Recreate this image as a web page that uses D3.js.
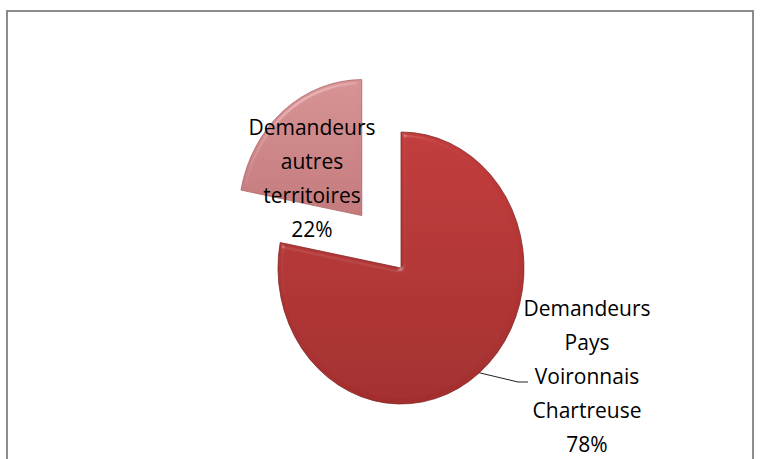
<!DOCTYPE html>
<html>
<head>
<meta charset="utf-8">
<script src="https://cdn.jsdelivr.net/npm/d3@7"></script>
<style>
  body { margin: 0; background: #fff; }
  svg { display: block; }
</style>
</head>
<body>
<div id="chart"></div>
<script>
// data
var categories = ["Demandeurs Pays Voironnais Chartreuse", "Demandeurs autres territoires"];
var values = [78, 22];
var labelLines = [
    ["Demandeurs", "Pays", "Voironnais", "Chartreuse", "78%"],
    ["Demandeurs", "autres", "territoires", "22%"]
];

var width = 760, height = 459;
var cx = 401, cy = 268;
var ry = 136, rx = 123;
var explode = [0, 68];

var svg = d3.select("#chart").append("svg")
    .attr("width", width)
    .attr("height", height);

var defs = svg.append("defs");

function addGradient(id, c1, c2) {
    var g = defs.append("linearGradient")
        .attr("id", id)
        .attr("x1", 0).attr("y1", 0).attr("x2", 0).attr("y2", 1);
    g.append("stop").attr("offset", "0%").attr("stop-color", c1);
    g.append("stop").attr("offset", "100%").attr("stop-color", c2);
}
addGradient("gBig", "#c23b3b", "#a32e2e");
addGradient("gSmall", "#d69294", "#c47a7c");

// soft bevel, only on the edges
var f = defs.append("filter").attr("id", "bevel")
    .attr("x", "-10%").attr("y", "-10%").attr("width", "120%").attr("height", "120%");
f.append("feGaussianBlur").attr("in", "SourceAlpha").attr("stdDeviation", 2.5).attr("result", "blur");
f.append("feSpecularLighting").attr("in", "blur").attr("surfaceScale", 4)
    .attr("specularConstant", 0.6).attr("specularExponent", 40)
    .attr("lighting-color", "#ffffff").attr("result", "spec")
    .append("feDistantLight").attr("azimuth", 235).attr("elevation", 40);
f.append("feComposite").attr("in", "spec").attr("in2", "SourceAlpha")
    .attr("operator", "in").attr("result", "specIn");
f.append("feComposite").attr("in", "SourceGraphic").attr("in2", "specIn")
    .attr("operator", "arithmetic").attr("k1", 0).attr("k2", 1).attr("k3", 0.35).attr("k4", 0);

// frame
svg.append("rect")
    .attr("x", 7).attr("y", 11)
    .attr("width", 746).attr("height", 470)
    .attr("fill", "none")
    .attr("stroke", "#8c8c8c")
    .attr("stroke-width", 2);

var pie = d3.pie().sort(null).value(function(d) { return d; });
var arcs = pie(values);

var arc = d3.arc().innerRadius(0).outerRadius(ry);

var fills = ["url(#gBig)", "url(#gSmall)"];
var edges = ["#7e2222", "#a86466"];

var pieG = svg.append("g");

pieG.selectAll("path")
    .data(arcs)
    .enter()
    .append("path")
    .attr("transform", function(d, i) {
        var a = (d.startAngle + d.endAngle) / 2;
        var dx = Math.sin(a) * explode[i] * (rx / ry);
        var dy = -Math.cos(a) * explode[i];
        return "translate(" + (cx + dx) + "," + (cy + dy) + ") scale(" + (rx / ry) + ",1)";
    })
    .attr("d", arc)
    .attr("fill", function(d, i) { return fills[i]; })
    .attr("stroke", function(d, i) { return edges[i]; })
    .attr("stroke-width", 0.8)
    .attr("filter", "url(#bevel)");

// labels
var labelPos = [[587, 316], [312, 135]];
var lineH = 34;

var labels = svg.selectAll("text.lbl")
    .data(arcs)
    .enter()
    .append("text")
    .attr("class", "lbl")
    .attr("text-anchor", "middle")
    .attr("font-family", "'Open Sans', sans-serif")
    .attr("font-size", 21)
    .attr("fill", "#000");

labels.each(function(d, i) {
    var t = d3.select(this);
    labelLines[i].forEach(function(line, j) {
        t.append("tspan")
            .attr("x", labelPos[i][0])
            .attr("y", labelPos[i][1] + j * lineH)
            .text(line);
    });
});

// leader line for the big slice, from the middle of its arc
var a0 = (arcs[0].startAngle + arcs[0].endAngle) / 2;
var p0 = [cx + Math.sin(a0) * rx, cy - Math.cos(a0) * ry];
svg.append("polyline")
    .attr("points", [p0, [518, 382], [528, 382]].map(function(p) { return p.join(","); }).join(" "))
    .attr("fill", "none")
    .attr("stroke", "#222")
    .attr("stroke-width", 1);
</script>
</body>
</html>
